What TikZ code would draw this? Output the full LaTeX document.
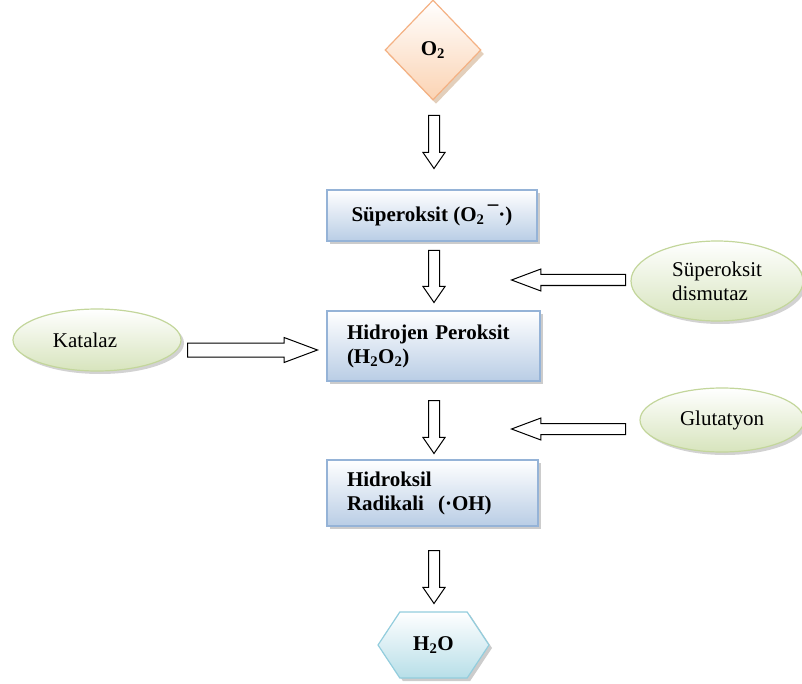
\documentclass[tikz,border=0pt]{standalone}
\usepackage{fontspec}
\setmainfont{Liberation Serif}
\usetikzlibrary{arrows.meta, positioning, shapes.geometric, shapes.arrows,
  shapes.symbols, shadows, calc}
\definecolor{peachLine}{HTML}{F4B183}
\definecolor{peachFill}{HTML}{FBD3B3}
\definecolor{peachShadow}{HTML}{C8A078}
\definecolor{blueLine}{HTML}{95B3D7}
\definecolor{blueFill}{HTML}{B9CDE5}
\definecolor{greenLine}{HTML}{C3D69B}
\definecolor{greenFill}{HTML}{D7E4BD}
\definecolor{tealLine}{HTML}{93CDDD}
\definecolor{tealFill}{HTML}{B7DEE8}
\newcommand{\figFont}{\fontsize{21}{24}\selectfont}
\tikzset{
  stepBox/.style={rectangle, draw=blueLine, line width=1.2pt,
                  top color=white, bottom color=blueFill,
                  drop shadow={shadow xshift=3pt, shadow yshift=-3pt, fill=black!40},
                  font=\figFont\bfseries, inner sep=0pt},
  enzyme/.style={ellipse, draw=greenLine, line width=1.2pt,
                 top color=white, bottom color=greenFill,
                 drop shadow={shadow xshift=3pt, shadow yshift=-3pt, fill=black!35},
                 inner sep=0pt, align=left, font=\figFont},
  blockArrow/.style={single arrow, draw=black, fill=white, line width=1pt,
                     inner xsep=0pt, inner ysep=5pt, anchor=tail,
                     single arrow head extend=5.5pt, single arrow head indent=0pt,
                     single arrow tip angle=69},
  sideArrow/.style={blockArrow, single arrow tip angle=41},
}
\begin{document}
\begin{tikzpicture}[x=1pt, y=-1pt, font=\figFont]
    \useasboundingbox (0,0) rectangle (802,684);
    % main column
    \node[diamond, draw=peachLine, line width=1.2pt, top color=white,
          bottom color=peachFill, minimum width=96pt, minimum height=100pt,
          inner sep=0pt, font=\figFont\bfseries,
          drop shadow={shadow xshift=3pt, shadow yshift=-4pt, fill=peachShadow}]
          (o2) at (433,50) {O\textsubscript{2}};
    \node[stepBox, minimum width=210pt, minimum height=51pt]
          (superoksit) at (432,215.5)
          {Süperoksit (O\textsubscript{2}\,\raisebox{1.1ex}{\textendash}·)};
    \node[stepBox, minimum width=213pt, minimum height=70pt, text width=173pt, align=left]
          (hidrojen) at (433.5,346) {Hidrojen Peroksit\\(H\textsubscript{2}O\textsubscript{2})};
    \node[stepBox, minimum width=211pt, minimum height=66pt, text width=171pt, align=left]
          (hidroksil) at (432.5,493) {Hidroksil\\Radikali\ \ (·OH)};
    \node[signal, signal to=west and east, signal pointer angle=113,
          draw=tealLine, line width=1.2pt, top color=white, bottom color=tealFill,
          minimum width=111pt, minimum height=66pt, inner sep=0pt, font=\figFont\bfseries,
          drop shadow={shadow xshift=3pt, shadow yshift=-3pt, fill=black!40}]
          (water) at (433.5,645) {H\textsubscript{2}O};
    % enzymes
    \node[enzyme, minimum width=172pt, minimum height=80pt] (sod) at (717,281)
          {Süperoksit\\dismutaz};
    \node[enzyme, minimum width=164pt, minimum height=64pt] (glutatyon) at (722,420)
          {Glutatyon};
    \node[enzyme, minimum width=168pt, minimum height=62pt, text depth=0pt]
          (katalaz) at (97,340) {\hspace*{-24pt}Katalaz};
    % block arrows
    \node[blockArrow, minimum height=53pt, rotate=-90] (a1) at (434,115) {};
    \node[blockArrow, minimum height=52pt, rotate=-90] (a2) at (434,250) {};
    \node[blockArrow, minimum height=53pt, rotate=-90] (a3) at (434,400) {};
    \node[blockArrow, minimum height=53pt, rotate=-90] (a4) at (434,550) {};
    \node[sideArrow, minimum height=114pt, rotate=180] (aSod) at (626,280) {};
    \node[sideArrow, minimum height=114pt, rotate=180] (aGlu) at (626,429) {};
    \node[sideArrow, minimum height=130pt, inner ysep=6.5pt,
          single arrow head extend=5.5pt] (aKat) at (187,350) {};
  \end{tikzpicture}
\end{document}
